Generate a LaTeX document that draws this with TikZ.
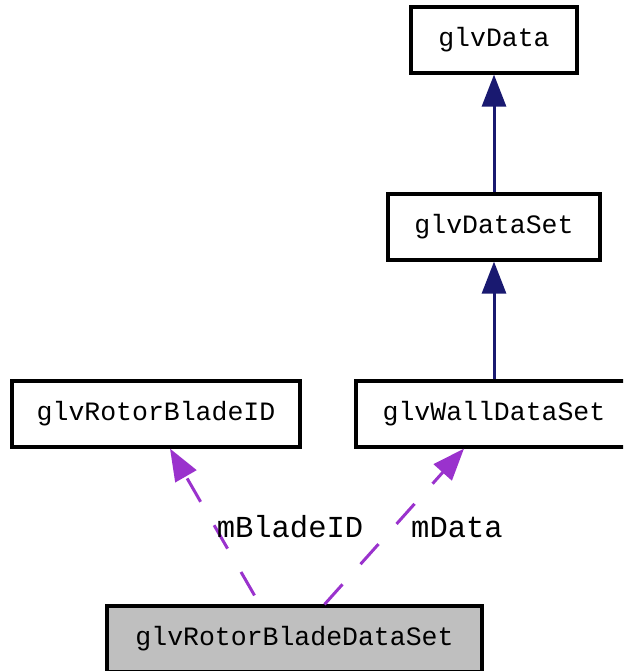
\documentclass[tikz,border=0pt]{standalone}
\usepackage{fontspec}
\setmainfont{Liberation Mono}
\usetikzlibrary{arrows.meta}
\definecolor{inherit}{HTML}{191970}
\definecolor{usage}{HTML}{9A32CD}
\definecolor{focus}{HTML}{BFBFBF}
\begin{document}
\begin{tikzpicture}[x=1pt,y=1pt,
  classbox/.style={draw=black,line width=3.2pt,fill=white,inner sep=0pt,
    minimum height=66pt,font=\fontsize{26.5}{30}\selectfont},
  inheritline/.style={draw=inherit,line width=3pt,
    -{Triangle[length=32pt,width=24pt]}},
  useline/.style={draw=usage,line width=3pt,dash pattern=on 27pt off 27pt,
    -{Triangle[length=32pt,width=24pt]}},
  edgelabel/.style={font=\fontsize{30.5}{34}\selectfont,inner sep=0pt}]
\useasboundingbox (0,0) rectangle (623,-671);
\clip (0,0) rectangle (623,-671);

% class boxes
\node[classbox,minimum width=166pt] (data) at (494,-40) {glvData};
\node[classbox,minimum width=212pt] (dataset) at (494,-227) {glvDataSet};
\node[classbox,minimum width=288pt] (bladeid) at (156,-414) {glvRotorBladeID};
\node[classbox,minimum width=276pt] (walldata) at (494,-414) {glvWallDataSet};
\node[classbox,fill=focus,minimum width=375pt] (bladedata) at (294.5,-639) {glvRotorBladeDataSet};

% inheritance
\draw[inheritline] (dataset) -- (data);
\draw[inheritline] (walldata) -- (dataset);

% member usage
\coordinate (fromA) at ([xshift=-40pt,yshift=9pt]bladedata.north);
\coordinate (fromB) at ([xshift=30pt]bladedata.north);
\draw[useline] (fromA) -- ([xshift=14pt]bladeid.south);
\draw[useline] (fromB) -- ([xshift=-30pt]walldata.south);

\node[edgelabel] (lblA) at (290,-527) {mBladeID};
\node[edgelabel] (lblB) at (457,-527) {mData};
\end{tikzpicture}
\end{document}
